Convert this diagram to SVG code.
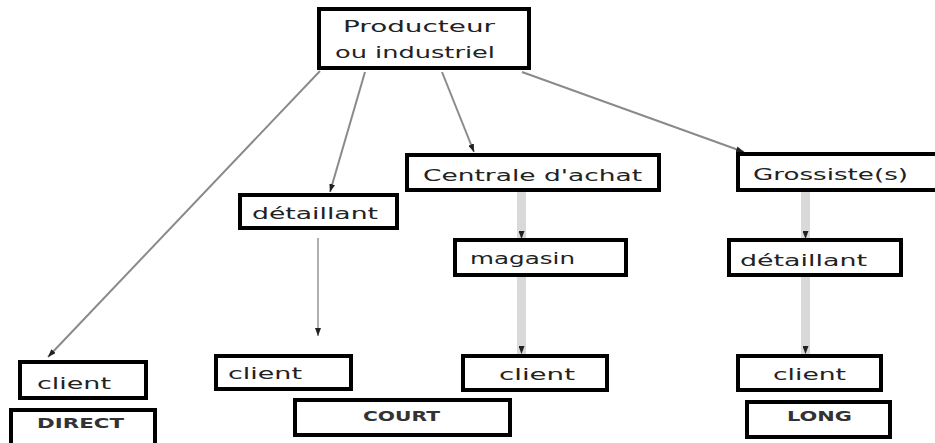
<svg xmlns="http://www.w3.org/2000/svg" width="935" height="443" viewBox="0 0 935 443">
<style>
.box{fill:#fff;stroke:#000;stroke-width:4}
.t{font-family:"DejaVu Sans","Liberation Sans",sans-serif;font-size:15px;fill:#222}
.c{font-family:"DejaVu Sans","Liberation Sans",sans-serif;font-size:14px;font-weight:bold;fill:#333}
.thin{stroke:#8a8a8a;stroke-width:2;fill:none}
.thin2{stroke:#b0b0b0;stroke-width:2;fill:none}
.thick{stroke:#d9d9d9;stroke-width:9;fill:none}
</style>
<defs>
<marker id="ah" viewBox="0 0 8 6" refX="8" refY="3" markerWidth="8" markerHeight="6" markerUnits="userSpaceOnUse" orient="auto">
<path d="M0,0 L8,3 L0,6 z" fill="#222"/>
</marker>
</defs>
<rect width="935" height="443" fill="#fff"/>
<g id="connectors">
<line class="thin" x1="320" y1="71" x2="48" y2="357" marker-end="url(#ah)"/>
<line class="thin" x1="365" y1="72" x2="330" y2="192" marker-end="url(#ah)"/>
<line class="thin" x1="442" y1="72" x2="474" y2="152" marker-end="url(#ah)"/>
<line class="thin" x1="522" y1="72" x2="744" y2="152" marker-end="url(#ah)"/>
<line class="thin2" x1="318" y1="238" x2="318" y2="336" marker-end="url(#ah)"/>
<line class="thick" x1="521.5" y1="192" x2="521.5" y2="239" marker-end="url(#ah)"/>
<line class="thick" x1="521.5" y1="277" x2="521.5" y2="354" marker-end="url(#ah)"/>
<line class="thick" x1="805.5" y1="192" x2="805.5" y2="239" marker-end="url(#ah)"/>
<line class="thick" x1="805.5" y1="277" x2="805.5" y2="354" marker-end="url(#ah)"/>
</g>
<g id="producteur">
<rect class="box" x="319" y="9" width="210" height="59"/>
<text class="t" x="343" y="32" textLength="152" lengthAdjust="spacingAndGlyphs">Producteur</text>
<text class="t" x="335" y="58" textLength="160" lengthAdjust="spacingAndGlyphs">ou industriel</text>
</g>
<g id="detaillant1">
<rect class="box" x="240" y="195" width="157" height="33"/>
<text class="t" x="252" y="219" textLength="126" lengthAdjust="spacingAndGlyphs">détaillant</text>
</g>
<g id="centrale">
<rect class="box" x="407" y="155" width="252" height="35"/>
<text class="t" x="423" y="181" textLength="219" lengthAdjust="spacingAndGlyphs">Centrale d'achat</text>
</g>
<g id="magasin">
<rect class="box" x="455" y="240" width="171" height="35"/>
<text class="t" x="470" y="264" textLength="105" lengthAdjust="spacingAndGlyphs">magasin</text>
</g>
<g id="grossiste">
<rect class="box" x="738" y="154" width="220" height="36"/>
<text class="t" x="753" y="180" textLength="155" lengthAdjust="spacingAndGlyphs">Grossiste(s)</text>
</g>
<g id="detaillant2">
<rect class="box" x="729" y="240" width="172" height="35"/>
<text class="t" x="740" y="266" textLength="127" lengthAdjust="spacingAndGlyphs">détaillant</text>
</g>
<g id="client1">
<rect class="box" x="20" y="362" width="126" height="36"/>
<text class="t" x="37" y="389" textLength="74" lengthAdjust="spacingAndGlyphs">client</text>
</g>
<g id="client2">
<rect class="box" x="216" y="356" width="135" height="33"/>
<text class="t" x="228" y="379" textLength="74" lengthAdjust="spacingAndGlyphs">client</text>
</g>
<g id="client3">
<rect class="box" x="463" y="356" width="144" height="34"/>
<text class="t" x="499" y="380" textLength="76" lengthAdjust="spacingAndGlyphs">client</text>
</g>
<g id="client4">
<rect class="box" x="738" y="356" width="143" height="34"/>
<text class="t" x="773" y="380" textLength="73" lengthAdjust="spacingAndGlyphs">client</text>
</g>
<g id="direct">
<rect class="box" x="11" y="410" width="144" height="50"/>
<text class="c" x="37" y="428" textLength="87" lengthAdjust="spacingAndGlyphs">DIRECT</text>
</g>
<g id="court">
<rect class="box" x="295" y="400" width="215" height="35"/>
<text class="c" x="363" y="421" textLength="77" lengthAdjust="spacingAndGlyphs">COURT</text>
</g>
<g id="long">
<rect class="box" x="747" y="402" width="143" height="35"/>
<text class="c" x="787" y="421" textLength="65" lengthAdjust="spacingAndGlyphs">LONG</text>
</g>
</svg>
